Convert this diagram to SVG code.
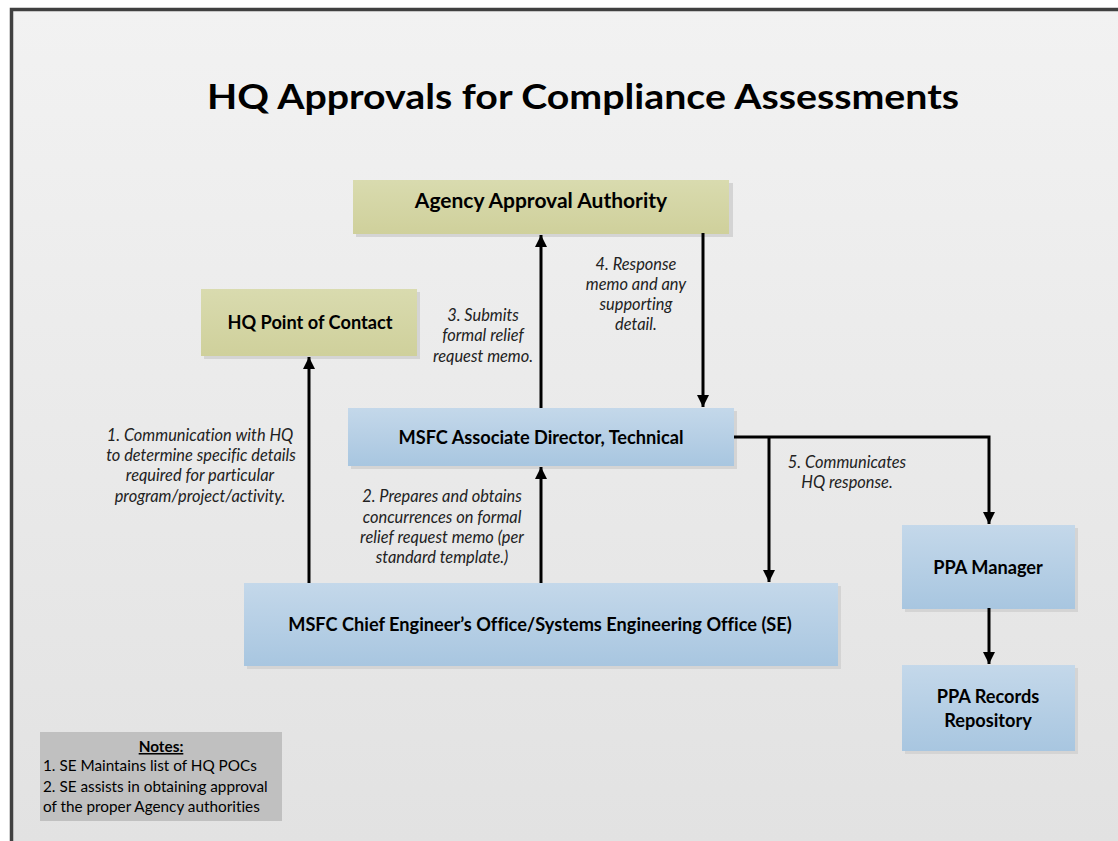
<svg xmlns="http://www.w3.org/2000/svg" width="1118" height="841" viewBox="0 0 1118 841">
<defs>
<linearGradient id="bg" x1="0" y1="0" x2="0" y2="1"><stop offset="0" stop-color="#f2f2f2"/><stop offset="1" stop-color="#e2e2e2"/></linearGradient>
<linearGradient id="blue" x1="0" y1="0" x2="0" y2="1"><stop offset="0" stop-color="#c4d8ea"/><stop offset="1" stop-color="#a8c6e0"/></linearGradient>
<linearGradient id="green" x1="0" y1="0" x2="0" y2="1"><stop offset="0" stop-color="#d9dbaf"/><stop offset="1" stop-color="#cfd09b"/></linearGradient>
<marker id="ah" viewBox="0 0 10 10" refX="10" refY="5" markerWidth="4" markerHeight="4" markerUnits="strokeWidth" orient="auto"><path d="M0,0 L10,5 L0,10 z" fill="#000"/></marker>
<style>
text{font-variant-ligatures:none}
.box{stroke:none}
.shadow{fill:#d4d4d4}
.bt{font-family:Lato,"Open Sans",sans-serif;font-weight:bold;font-size:18.2px;fill:#000;text-anchor:middle}
.lb{font-family:Lato,"Open Sans",sans-serif;font-style:italic;font-size:16.4px;fill:#222;text-anchor:middle}
.cn{fill:none;stroke:#000;stroke-width:3}
.nt{font-family:Lato,"Open Sans",sans-serif;font-size:15.3px;fill:#000}
</style>
</defs>
<rect x="0" y="0" width="1118" height="841" fill="#ffffff"/>
<rect x="11" y="9" width="1107" height="832" fill="url(#bg)"/>
<path d="M11.5,841 V9.5 H1118" fill="none" stroke="#404040" stroke-width="3.5"/>
<text x="583" y="109" font-family="Lato,'Open Sans',sans-serif" font-weight="bold" font-size="34" text-anchor="middle" textLength="752" lengthAdjust="spacingAndGlyphs">HQ Approvals for Compliance Assessments</text>

<g id="agency">
<rect class="shadow" x="356" y="183" width="377" height="54"/>
<rect class="box" x="353" y="180" width="376" height="54" fill="url(#green)"/>
<text class="bt" x="541" y="208" style="font-size:21px">Agency Approval Authority</text>
</g>
<g id="hqpoc">
<rect class="shadow" x="204" y="292" width="216" height="67"/>
<rect class="box" x="201" y="289" width="216" height="67" fill="url(#green)"/>
<text class="bt" x="310" y="329">HQ Point of Contact</text>
</g>
<g id="assoc">
<rect class="shadow" x="351" y="411" width="386" height="58"/>
<rect class="box" x="348" y="408" width="386" height="58" fill="url(#blue)"/>
<text class="bt" x="541" y="444">MSFC Associate Director, Technical</text>
</g>
<g id="chief">
<rect class="shadow" x="247" y="586" width="594" height="83"/>
<rect class="box" x="244" y="583" width="594" height="83" fill="url(#blue)"/>
<text class="bt" x="540" y="631">MSFC Chief Engineer’s Office/Systems Engineering Office (SE)</text>
</g>
<g id="ppamgr">
<rect class="shadow" x="905" y="528" width="173" height="84"/>
<rect class="box" x="902" y="525" width="173" height="84" fill="url(#blue)"/>
<text class="bt" x="988" y="574">PPA Manager</text>
</g>
<g id="pparec">
<rect class="shadow" x="905" y="668" width="173" height="86"/>
<rect class="box" x="902" y="665" width="173" height="86" fill="url(#blue)"/>
<text class="bt" x="988" y="703">PPA Records</text>
<text class="bt" x="988" y="727">Repository</text>
</g>

<g id="connectors">
<line class="cn" x1="309" y1="583" x2="309" y2="357" marker-end="url(#ah)"/>
<line class="cn" x1="541" y1="583" x2="541" y2="467" marker-end="url(#ah)"/>
<line class="cn" x1="541" y1="408" x2="541" y2="235" marker-end="url(#ah)"/>
<line class="cn" x1="703" y1="233" x2="703" y2="407" marker-end="url(#ah)"/>
<polyline class="cn" points="734,437 989,437 989,524" marker-end="url(#ah)"/>
<line class="cn" x1="769" y1="437" x2="769" y2="582" marker-end="url(#ah)"/>
<line class="cn" x1="989" y1="608" x2="989" y2="664" marker-end="url(#ah)"/>
</g>

<g id="labels">
<text class="lb" x="200" y="441">1. Communication with HQ</text>
<text class="lb" x="201" y="461">to determine specific details</text>
<text class="lb" x="200" y="481">required for particular</text>
<text class="lb" x="200" y="502">program/project/activity.</text>
<text class="lb" x="442" y="502">2. Prepares and obtains</text>
<text class="lb" x="442" y="523">concurrences on formal</text>
<text class="lb" x="442" y="543">relief request memo (per</text>
<text class="lb" x="442" y="563">standard template.)</text>
<text class="lb" x="483" y="321">3. Submits</text>
<text class="lb" x="483" y="341">formal relief</text>
<text class="lb" x="483" y="362">request memo.</text>
<text class="lb" x="636" y="270">4. Response</text>
<text class="lb" x="636" y="290">memo and any</text>
<text class="lb" x="636" y="310">supporting</text>
<text class="lb" x="636" y="330">detail.</text>
<text class="lb" x="847" y="468">5. Communicates</text>
<text class="lb" x="847" y="488">HQ response.</text>
</g>

<g id="notes">
<rect x="40" y="732" width="242" height="89" fill="#c0c0c0"/>
<text class="nt" x="161" y="752" text-anchor="middle" font-weight="bold" text-decoration="underline">Notes:</text>
<text class="nt" x="43" y="771">1. SE Maintains list of HQ POCs</text>
<text class="nt" x="43" y="792">2. SE assists in obtaining approval</text>
<text class="nt" x="43" y="812">of the proper Agency authorities</text>
</g>
</svg>
